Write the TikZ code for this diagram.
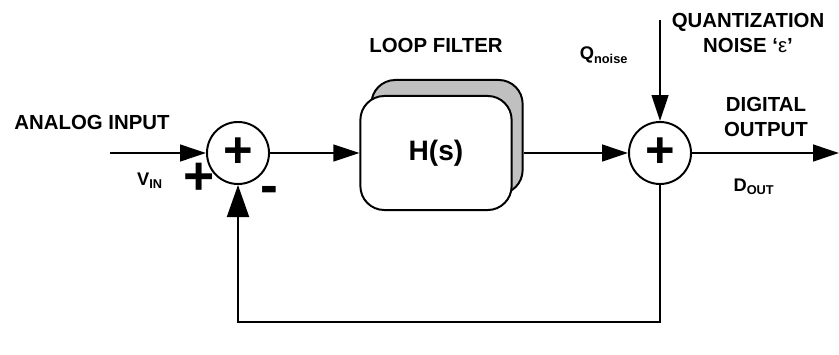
\documentclass[tikz,border=0pt]{standalone}
\usepackage{fontspec}
\setmainfont{Liberation Sans}
\usetikzlibrary{arrows.meta,positioning,calc}
\definecolor{shade}{RGB}{192,192,192}
\tikzset{
  >={Triangle[length=6.5mm,width=4.2mm]},
  sig/.style={->, line width=1.4pt},
  bigsig/.style={-{Triangle[length=8mm,width=5.5mm]}, line width=1.4pt},
  sumnode/.style={circle, draw, line width=1.4pt, minimum size=15.5mm,
    inner sep=0pt, font=\fontsize{36}{36}\selectfont\bfseries},
  filtbox/.style={draw, line width=1.4pt, rounded corners=17pt,
    minimum width=3.78cm, minimum height=2.85cm, inner sep=0pt,
    font=\fontsize{20}{24}\selectfont\bfseries},
  lbl/.style={font=\fontsize{14.5}{18}\selectfont\bfseries, align=center, inner sep=0pt},
  sublbl/.style={font=\fontsize{13}{15}\selectfont\bfseries, inner sep=0pt},
  sign/.style={font=\fontsize{38}{38}\selectfont\bfseries, inner sep=0pt},
}

\begin{document}
\begin{tikzpicture}[x=0.025cm, y=-0.025cm]
\useasboundingbox (0,0) rectangle (839,354);

% ---------- summing junctions ----------
\node[sumnode] (s1) at (238,153) {+};
\node[sumnode] (s2) at (660,153) {+};

% ---------- loop filter ----------
\node[filtbox, fill=shade] (hb) at (447,137) {};
\node[filtbox, fill=white] (h) at (436,153) {H(s)};

% ---------- labels ----------
\node[lbl] (ain) at (92,122) {ANALOG INPUT};
\node[sublbl] (vin) at (150,181) {V\textsubscript{IN}};
\node[sign] (pl) at (199,179) {+};
\node[sign] (mi) at (269,195) {-};
\node[lbl] (lf) at (436,45) {LOOP FILTER};
\node[sublbl] (qn) at (604,55) {Q\textsubscript{noise}};
\node[lbl] (qz) at (748,33) {QUANTIZATION\\NOISE ‘{\mdseries ε}’};
\node[lbl] (dig) at (766,117) {DIGITAL\\OUTPUT};
\node[sublbl] (dout) at (754,187) {D\textsubscript{OUT}};

% ---------- free ends ----------
\coordinate (in)  at (110,153);
\coordinate (qin) at (660,20);
\coordinate (out) at (839,153);
\coordinate (fb)  at (450,322);

% ---------- signal flow ----------
\draw[sig] (in) -- (s1.west);
\draw[sig] (s1.east) -- (h.west);
\draw[sig] (hb.east |- s2.west) -- (s2.west);
\draw[sig] (qin) -- (s2.north);
\draw[sig] (s2.east) -- (out);
\draw[bigsig] (s2.south) |- (fb) -| (s1.south);

\end{tikzpicture}
\end{document}
